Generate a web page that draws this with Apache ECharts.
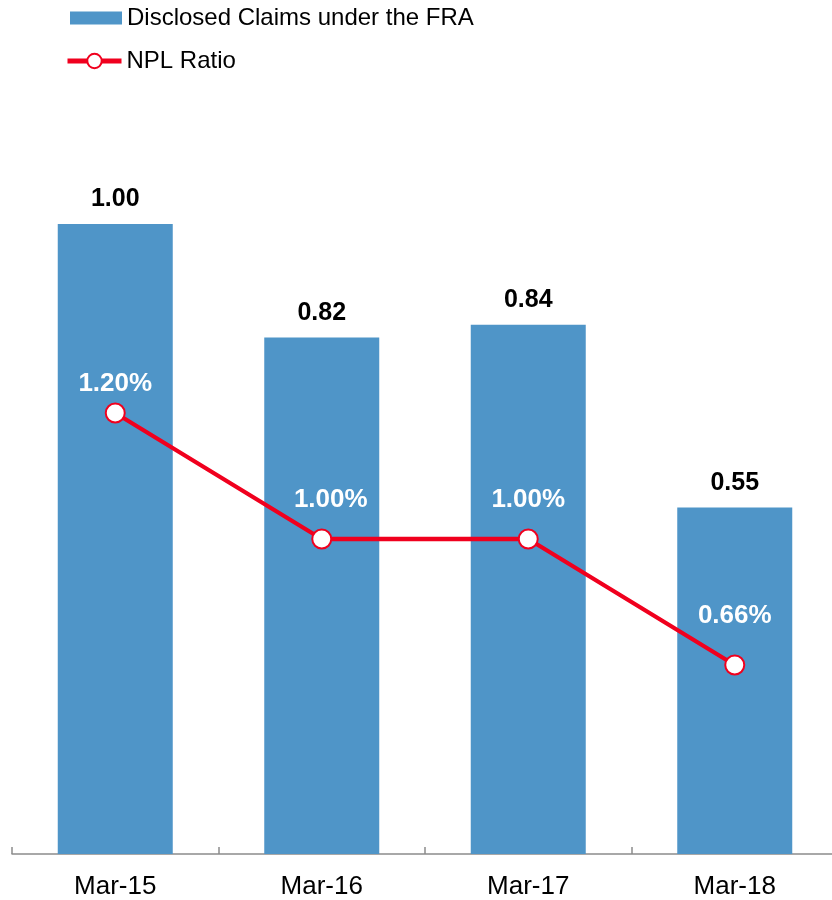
<!DOCTYPE html>
<html>
<head>
<meta charset="utf-8">
<script src="https://cdn.jsdelivr.net/npm/echarts@6/dist/echarts.min.js"></script>
<style>html,body{margin:0;padding:0;background:#fff;overflow:hidden}#c{width:838px;height:900px}</style>
</head>
<body>
<div id="c"></div>
<script>
const categories = ["Mar-15", "Mar-16", "Mar-17", "Mar-18"];
const disclosedClaims = [1.00, 0.82, 0.84, 0.55];
const nplRatioLabels = [1.20, 1.00, 1.00, 0.66];
const nplRatioPlotted = [1.20, 1.00, 1.00, 0.80];
const barName = "Disclosed Claims under the FRA";
const lineName = "NPL Ratio";

const FONT = 'Arial, "Liberation Sans", sans-serif';
const RED = '#f0001e';
const lineLabelOffsets = [[0, 0], [9, -10], [0, -10], [0, -20]];
const legendText = { fontSize: 24, color: '#000', fontFamily: FONT };
const chart = echarts.init(document.getElementById('c'));
chart.setOption({
  animation: false,
  textStyle: { fontFamily: FONT },
  legend: [
    {
      left: 65, top: 1,
      itemWidth: 52, itemHeight: 13,
      textStyle: legendText,
      data: [{ name: barName, icon: 'rect' }]
    },
    {
      left: 60, top: 44,
      itemWidth: 54, itemHeight: 18,
      textStyle: legendText,
      lineStyle: { width: 5 },
      itemStyle: { borderWidth: 2 },
      data: [{ name: lineName }]
    }
  ],
  grid: { left: 12, right: 0, top: 224, bottom: 46 },
  xAxis: {
    type: 'category',
    data: categories,
    axisLine: { lineStyle: { color: '#8c8c8c', width: 1.5 } },
    axisTick: { show: true, inside: true, length: 7, lineStyle: { color: '#8c8c8c', width: 1.5 } },
    axisLabel: { fontSize: 26, color: '#000', margin: 20, fontFamily: FONT }
  },
  yAxis: [
    { type: 'value', min: 0, max: 1, show: false, splitLine: { show: false } },
    { type: 'value', min: 0.5, max: 1.5, show: false, splitLine: { show: false } }
  ],
  series: [
    {
      name: barName,
      type: 'bar',
      data: disclosedClaims,
      barWidth: 115,
      itemStyle: { color: '#4f95c8' },
      label: {
        show: true, position: 'top', distance: 12,
        fontSize: 25, fontWeight: 'bold', color: '#000', fontFamily: FONT,
        formatter: p => p.value.toFixed(2)
      }
    },
    {
      name: lineName,
      type: 'line',
      yAxisIndex: 1,
      data: nplRatioPlotted.map((v, i) => ({ value: v, label: { offset: lineLabelOffsets[i] } })),
      symbol: 'circle',
      symbolSize: 19,
      lineStyle: { color: RED, width: 4.3 },
      itemStyle: { color: '#fff', borderColor: RED, borderWidth: 2 },
      label: {
        show: true, position: 'top', distance: 6,
        fontSize: 26, fontWeight: 'bold', color: '#fff', fontFamily: FONT,
        formatter: p => nplRatioLabels[p.dataIndex].toFixed(2) + '%'
      },
      z: 5
    }
  ]
});
</script>
</body>
</html>
